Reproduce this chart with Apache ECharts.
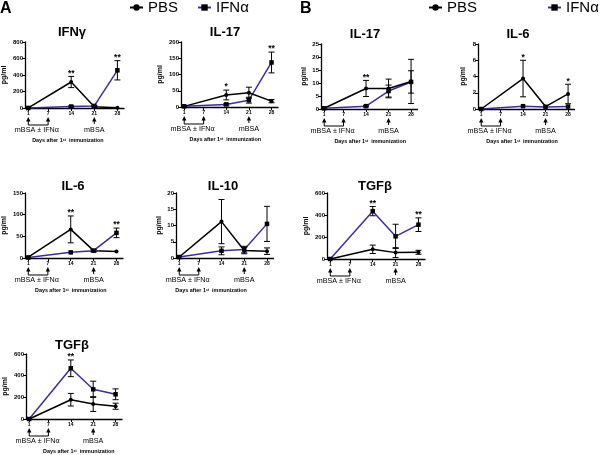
<!DOCTYPE html>
<html>
<head>
<meta charset="UTF-8">
<title>cytokines</title>
<script src="https://cdn.jsdelivr.net/npm/echarts@6/dist/echarts.min.js"></script>
<style>
 html, body { margin: 0; padding: 0; background: #fff; }
 #chart { width: 600px; height: 455px; }
</style>
</head>
<body>
<div id="chart"></div>
<script>
// sampling days and axis ticks
var days = [1, 14, 21, 28];
var tickDays = [1, 7, 14, 21, 28];

// A - IFNg
var ifngPbs = [2, 315, 15, 4];
var ifngPbsErr = [0, 68, 6, 0];
var ifngIfn = [0, 18, 25, 457];
var ifngIfnErr = [0, 8, 6, 117];
var ifngStars = ['', '**', '', '**'];

// A - IL-17
var il17aPbs = [2, 37, 44, 18];
var il17aPbsErr = [0, 15, 17, 5];
var il17aIfn = [2, 8, 21, 137];
var il17aIfnErr = [0, 3, 9, 32];
var il17aStars = ['', '*', '', '**'];

// A - IL-6
var il6aPbs = [2, 66, 17, 15];
var il6aPbsErr = [0, 31, 3, 0];
var il6aIfn = [1, 13, 17, 58];
var il6aIfnErr = [0, 0, 2, 11];
var il6aStars = ['', '**', '', '**'];

// A - IL-10
var il10Pbs = [0.3, 11.2, 2.3, 2.1];
var il10PbsErr = [0, 6.8, 1.0, 1.0];
var il10Ifn = [0.3, 2.2, 2.6, 10.5];
var il10IfnErr = [0, 1.2, 1.0, 5.4];
var il10Stars = ['', '', '', ''];

// A - TGFb
var tgfaPbs = [0, 178, 138, 118];
var tgfaPbsErr = [0, 58, 68, 28];
var tgfaIfn = [0, 468, 274, 228];
var tgfaIfnErr = [0, 77, 75, 50];
var tgfaStars = ['', '**', '', ''];

// B - IL-17
var il17bPbs = [0.3, 7.9, 7.9, 10.6];
var il17bPbsErr = [0, 3.1, 3.6, 8.5];
var il17bIfn = [0.3, 1.1, 6.9, 10.4];
var il17bIfnErr = [0, 0.3, 2.3, 4.3];
var il17bStars = ['', '**', '', ''];

// B - IL-6
var il6bPbs = [0, 3.75, 0.3, 1.85];
var il6bPbsErr = [0, 2.25, 0, 1.2];
var il6bIfn = [0, 0.35, 0.25, 0.3];
var il6bIfnErr = [0, 0, 0, 0];
var il6bStars = ['', '*', '', '*'];

// B - TGFb
var tgfbPbs = [0, 88, 58, 61];
var tgfbPbsErr = [0, 38, 45, 18];
var tgfbIfn = [0, 435, 206, 312];
var tgfbIfnErr = [0, 42, 110, 62];
var tgfbStars = ['', '**', '', '**'];

var BLUE = '#3d2f9a';
var FONT = 'Liberation Sans';

// ty = vertical centre of the panel title
var panels = [
  { title: 'IFNγ', tx: 72, ty: 33.5, left: 25, top: 42, width: 99, height: 66, max: 800, interval: 200, gap: 17,
    pbs: ifngPbs, pbsErr: ifngPbsErr, ifn: ifngIfn, ifnErr: ifngIfnErr, stars: ifngStars, daysAt: 13 },
  { title: 'IL-17', tx: 225, ty: 33.5, left: 181, top: 42, width: 97, height: 65, max: 200, interval: 50, gap: 17,
    pbs: il17aPbs, pbsErr: il17aPbsErr, ifn: il17aIfn, ifnErr: il17aIfnErr, stars: il17aStars, daysAt: 13.7 },
  { title: 'IL-17', tx: 365, ty: 35, left: 321, top: 44, width: 96.5, height: 65, max: 25, interval: 5, gap: 13,
    pbs: il17bPbs, pbsErr: il17bPbsErr, ifn: il17bIfn, ifnErr: il17bIfnErr, stars: il17bStars, daysAt: 15.3 },
  { title: 'IL-6', tx: 518, ty: 35, left: 478, top: 44, width: 96.5, height: 65, max: 8, interval: 2, gap: 11,
    pbs: il6bPbs, pbsErr: il6bPbsErr, ifn: il6bIfn, ifnErr: il6bIfnErr, stars: il6bStars, daysAt: 13.7 },
  { title: 'IL-6', tx: 73, ty: 187, left: 25, top: 193, width: 98, height: 65, max: 150, interval: 50, gap: 17,
    pbs: il6aPbs, pbsErr: il6aPbsErr, ifn: il6aIfn, ifnErr: il6aIfnErr, stars: il6aStars, daysAt: 14 },
  { title: 'IL-10', tx: 223, ty: 187, left: 176, top: 193, width: 97.5, height: 65, max: 20, interval: 5, gap: 13,
    pbs: il10Pbs, pbsErr: il10PbsErr, ifn: il10Ifn, ifnErr: il10IfnErr, stars: il10Stars, daysAt: 10.8 },
  { title: 'TGFβ', tx: 375, ty: 187, left: 327, top: 193, width: 98, height: 66, max: 600, interval: 200, gap: 17,
    pbs: tgfbPbs, pbsErr: tgfbPbsErr, ifn: tgfbIfn, ifnErr: tgfbIfnErr, stars: tgfbStars, daysAt: null },
  { title: 'TGFβ', tx: 72, ty: 346.5, left: 26, top: 354, width: 96, height: 65, max: 600, interval: 200, gap: 17,
    pbs: tgfaPbs, pbsErr: tgfaPbsErr, ifn: tgfaIfn, ifnErr: tgfaIfnErr, stars: tgfaStars, daysAt: 16.5 }
];

function arrowUp(x, yTip, yEnd) {
  return [
    { type: 'line', shape: { x1: x, y1: yTip + 3, x2: x, y2: yEnd }, style: { stroke: '#000', lineWidth: 1 } },
    { type: 'polygon', shape: { points: [[x, yTip], [x - 2.2, yTip + 4.5], [x + 2.2, yTip + 4.5]] }, style: { fill: '#000' } }
  ];
}

var titles = [], grids = [], xAxes = [], yAxes = [], series = [];

panels.forEach(function (p, k) {
  titles.push({
    text: p.title, left: p.tx, top: p.ty - 7.5, textAlign: 'center', padding: 0,
    textStyle: { fontFamily: FONT, fontSize: 13, fontWeight: 'bold', color: '#000' }
  });
  grids.push({ left: p.left, top: p.top, width: p.width, height: p.height });
  xAxes.push({
    gridIndex: k, type: 'value', min: 0, max: 30,
    axisLine: { lineStyle: { color: '#000', width: 1.3 } },
    axisTick: { customValues: tickDays, length: 3, lineStyle: { color: '#000', width: 1 } },
    axisLabel: { customValues: tickDays, fontSize: 5, fontWeight: 'bold', color: '#000', fontFamily: FONT, margin: 3 },
    splitLine: { show: false }
  });
  yAxes.push({
    gridIndex: k, type: 'value', min: 0, max: p.max, interval: p.interval,
    name: 'pg/ml', nameLocation: 'middle', nameRotate: 90, nameGap: p.gap,
    nameTextStyle: { fontSize: 7, fontWeight: 'bold', color: '#000', fontFamily: FONT },
    axisLine: { show: true, lineStyle: { color: '#000', width: 1.3 } },
    axisTick: { show: true, length: 3, lineStyle: { color: '#000', width: 1 } },
    axisLabel: { fontSize: 6, fontWeight: 'bold', color: '#000', fontFamily: FONT, margin: 2 },
    splitLine: { show: false }
  });

  series.push({
    name: 'PBS', type: 'line', xAxisIndex: k, yAxisIndex: k,
    data: days.map(function (d, i) { return [d, p.pbs[i]]; }),
    symbol: 'circle', symbolSize: 4, itemStyle: { color: '#000' },
    lineStyle: { color: '#000', width: 1.5 }, z: 3
  });
  series.push({
    name: 'IFNα', type: 'line', xAxisIndex: k, yAxisIndex: k,
    data: days.map(function (d, i) { return [d, p.ifn[i]]; }),
    symbol: 'rect', symbolSize: 4.5, itemStyle: { color: '#000' },
    lineStyle: { color: BLUE, width: 1.5 }, z: 2
  });

  // error bars (mean +/- err)
  var errData = [];
  days.forEach(function (d, i) {
    if (p.pbsErr[i]) errData.push([d, p.pbs[i], p.pbsErr[i]]);
    if (p.ifnErr[i]) errData.push([d, p.ifn[i], p.ifnErr[i]]);
  });
  series.push({
    type: 'custom', xAxisIndex: k, yAxisIndex: k, data: errData, z: 4, silent: true,
    renderItem: function (params, api) {
      var x = api.value(0), m = api.value(1), e = api.value(2);
      var hi = api.coord([x, m + e]), lo = api.coord([x, m - e]);
      var st = { stroke: '#000', lineWidth: 1 };
      return {
        type: 'group', children: [
          { type: 'line', shape: { x1: hi[0], y1: hi[1], x2: lo[0], y2: lo[1] }, style: st },
          { type: 'line', shape: { x1: hi[0] - 3, y1: hi[1], x2: hi[0] + 3, y2: hi[1] }, style: st },
          { type: 'line', shape: { x1: lo[0] - 3, y1: lo[1], x2: lo[0] + 3, y2: lo[1] }, style: st }
        ]
      };
    }
  });

  // significance marks
  var starData = [];
  days.forEach(function (d, i) {
    if (p.stars[i]) starData.push([d, Math.max(p.pbs[i] + p.pbsErr[i], p.ifn[i] + p.ifnErr[i]), i]);
  });
  series.push({
    type: 'custom', xAxisIndex: k, yAxisIndex: k, data: starData, z: 4, silent: true, clip: false,
    renderItem: function (params, api) {
      var pt = api.coord([api.value(0), api.value(1)]);
      return {
        type: 'text', x: pt[0], y: pt[1] - 3,
        style: { text: p.stars[api.value(2)], fontSize: 8.5, fontWeight: 'bold', fontFamily: FONT,
                 fill: '#000', align: 'center', verticalAlign: 'middle' }
      };
    }
  });

  // immunisation schedule under the x axis
  series.push({
    type: 'custom', xAxisIndex: k, yAxisIndex: k, data: [[0, 0]], z: 4, silent: true, clip: false,
    renderItem: function (params, api) {
      var y0 = api.coord([0, 0])[1];
      var x1 = api.coord([1, 0])[0], x7 = api.coord([7, 0])[0], x21 = api.coord([21, 0])[0];
      var ch = [].concat(arrowUp(x1, y0 + 9, y0 + 17), arrowUp(x7, y0 + 9, y0 + 17), arrowUp(x21, y0 + 9, y0 + 16));
      ch.push({ type: 'line', shape: { x1: x1, y1: y0 + 17, x2: x7, y2: y0 + 17 }, style: { stroke: '#000', lineWidth: 1 } });
      ch.push({ type: 'text', x: api.coord([3.6, 0])[0], y: y0 + 22.5,
        style: { text: 'mBSA ± IFNα', fontSize: 7.2, fontFamily: FONT, fill: '#000', align: 'center', verticalAlign: 'middle' } });
      ch.push({ type: 'text', x: x21, y: y0 + 22.5,
        style: { text: 'mBSA', fontSize: 7.2, fontFamily: FONT, fill: '#000', align: 'center', verticalAlign: 'middle' } });
      if (p.daysAt !== null) {
        ch.push({ type: 'text', x: api.coord([p.daysAt, 0])[0], y: y0 + 33,
          style: { text: '{a|Days after 1}{s|st}{a|  immunization}', align: 'center', verticalAlign: 'middle',
            rich: {
              a: { fontSize: 5.4, fontWeight: 'bold', fontFamily: FONT, fill: '#000' },
              s: { fontSize: 3.6, fontWeight: 'bold', fontFamily: FONT, fill: '#000', padding: [0, 0, 3, 0] }
            } } });
      }
      return { type: 'group', children: ch };
    }
  });
});

var legendBase = {
  data: ['PBS', 'IFNα'], top: 0, itemWidth: 13, itemHeight: 8, padding: 0, width: 240,
  textStyle: { fontFamily: FONT, fontSize: 15, color: '#000' }
};

var myChart = echarts.init(document.getElementById('chart'));
myChart.setOption({
  animation: false,
  backgroundColor: '#fff',
  title: titles,
  legend: [
    Object.assign({ left: 129, itemGap: 19 }, legendBase),
    Object.assign({ left: 428, itemGap: 70 }, legendBase)
  ],
  graphic: [
    { type: 'text', left: 0, top: 1, style: { text: 'A', fontSize: 16, fontWeight: 'bold', fontFamily: FONT, fill: '#000' } },
    { type: 'text', left: 300, top: 1, style: { text: 'B', fontSize: 16, fontWeight: 'bold', fontFamily: FONT, fill: '#000' } }
  ],
  grid: grids,
  xAxis: xAxes,
  yAxis: yAxes,
  series: series
});
</script>
</body>
</html>
